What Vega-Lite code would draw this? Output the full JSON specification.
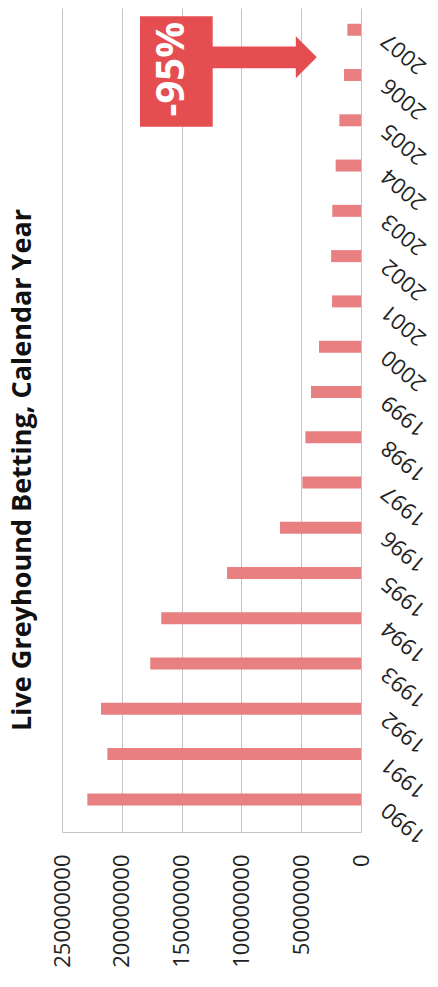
{
  "$schema": "https://vega.github.io/schema/vega-lite/v6.json",
  "width": 299,
  "height": 824,
  "autosize": {"type": "none"},
  "padding": {"left": 62, "top": 8, "right": 77, "bottom": 155},
  "background": "#ffffff",
  "title": {
    "text": "Live Greyhound Betting, Calendar Year",
    "orient": "left",
    "anchor": "middle",
    "frame": "group",
    "offset": -7,
    "baseline": "alphabetic",
    "dx": -50,
    "font": "Open Sans",
    "fontSize": 27,
    "fontWeight": "bold",
    "color": "#111111"
  },
  "config": {
    "view": {"stroke": null},
    "axis": {"labelFont": "Open Sans", "labelColor": "#222222", "labelFlush": false, "labelOverlap": false}
  },
  "layer": [
    {
      "data": {"values": [
        {"year": 1990, "betting": 228800000},
        {"year": 1991, "betting": 212100000},
        {"year": 1992, "betting": 217400000},
        {"year": 1993, "betting": 176200000},
        {"year": 1994, "betting": 167000000},
        {"year": 1995, "betting": 112000000},
        {"year": 1996, "betting": 67700000},
        {"year": 1997, "betting": 49000000},
        {"year": 1998, "betting": 46500000},
        {"year": 1999, "betting": 41800000},
        {"year": 2000, "betting": 35100000},
        {"year": 2001, "betting": 24200000},
        {"year": 2002, "betting": 25000000},
        {"year": 2003, "betting": 24000000},
        {"year": 2004, "betting": 21200000},
        {"year": 2005, "betting": 18100000},
        {"year": 2006, "betting": 14200000},
        {"year": 2007, "betting": 11400000}
      ]},
      "mark": {"type": "bar", "orient": "horizontal", "size": 12, "color": "#e88082"},
      "encoding": {
        "x": {
          "field": "betting", "type": "quantitative", "stack": null,
          "scale": {"domain": [0, 250000000], "reverse": true, "nice": false, "zero": true},
          "axis": {
            "orient": "bottom", "title": null,
            "values": [0, 50000000, 100000000, 150000000, 200000000, 250000000],
            "format": "d", "labelAngle": -90, "labelPadding": 22, "labelFontSize": 22,
            "ticks": false, "grid": true, "gridColor": "#c2c2c8", "gridWidth": 1,
            "domain": true, "domainColor": "#c2c2c8"
          }
        },
        "y": {
          "field": "year", "type": "quantitative",
          "scale": {"domain": [1989.39, 2007.37], "nice": false, "zero": false},
          "axis": {
            "orient": "right", "title": null,
            "values": [1990, 1991, 1992, 1993, 1994, 1995, 1996, 1997, 1998, 1999, 2000, 2001, 2002, 2003, 2004, 2005, 2006, 2007],
            "format": "d", "labelAngle": 220, "labelAlign": "right", "labelBaseline": "middle",
            "labelPadding": 23, "labelOffset": 7, "labelFontSize": 22,
            "ticks": false, "grid": false, "domain": false
          }
        }
      }
    },
    {
      "data": {"values": [{"x1": 184800000, "x2": 124000000, "y1": 2007.30, "y2": 2004.86}]},
      "mark": {"type": "rect", "color": "#e54e50"},
      "encoding": {
        "x": {"field": "x1", "type": "quantitative"},
        "x2": {"field": "x2"},
        "y": {"field": "y1", "type": "quantitative"},
        "y2": {"field": "y2"}
      }
    },
    {
      "data": {"values": [{"x1": 125000000, "x2": 54300000, "y1": 2006.63, "y2": 2006.15}]},
      "mark": {"type": "rect", "color": "#e54e50"},
      "encoding": {
        "x": {"field": "x1", "type": "quantitative"},
        "x2": {"field": "x2"},
        "y": {"field": "y1", "type": "quantitative"},
        "y2": {"field": "y2"}
      }
    },
    {
      "data": {"values": [{"x": 45700000, "y": 2006.39}]},
      "mark": {"type": "point", "shape": "M-0.5,-1L0.5,0L-0.5,1Z", "size": 1764, "filled": true, "opacity": 1, "color": "#e54e50", "strokeWidth": 0},
      "encoding": {
        "x": {"field": "x", "type": "quantitative"},
        "y": {"field": "y", "type": "quantitative"}
      }
    },
    {
      "data": {"values": [{"x": 158000000, "y": 2006.13, "label": "-95%"}]},
      "mark": {"type": "text", "angle": 270, "align": "center", "baseline": "middle", "font": "Open Sans", "fontSize": 40, "fontWeight": "bold", "color": "#ffffff"},
      "encoding": {
        "x": {"field": "x", "type": "quantitative"},
        "y": {"field": "y", "type": "quantitative"},
        "text": {"field": "label"}
      }
    }
  ]
}
